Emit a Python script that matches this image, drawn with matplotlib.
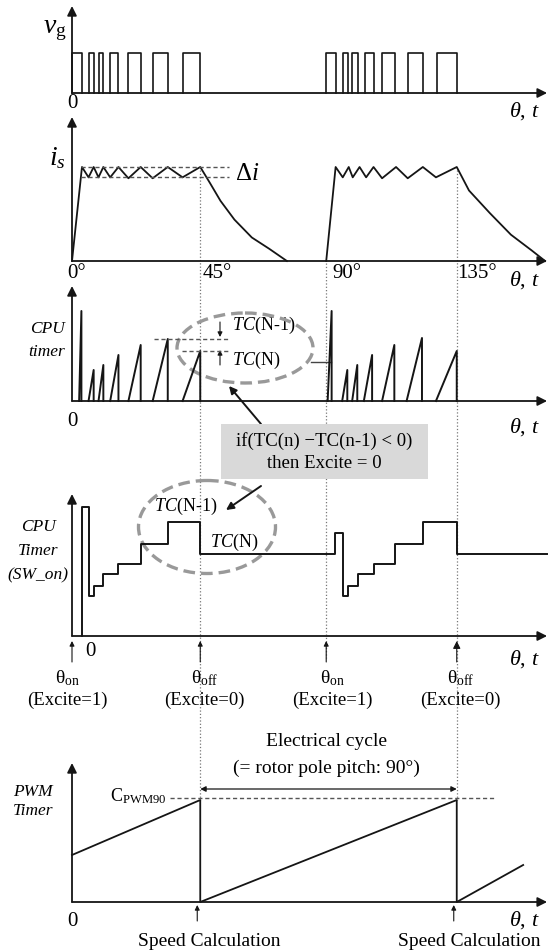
import numpy as np
import matplotlib
matplotlib.use('Agg')
import matplotlib.pyplot as plt
from matplotlib.patches import Ellipse, Rectangle
from matplotlib.transforms import blended_transform_factory

plt.rcParams['font.family'] = 'Liberation Serif'
plt.rcParams['mathtext.fontset'] = 'custom'
plt.rcParams['mathtext.rm'] = 'Liberation Serif'
plt.rcParams['mathtext.it'] = 'Liberation Serif:italic'

# gate voltage pulses, rotor angle in degrees
vg_rise = [0.0, 5.8, 9.3, 13.4, 19.8, 28.3, 38.8, 89.2, 95.0, 98.3, 102.9, 108.8, 117.8, 128.1]
vg_fall = [3.5, 7.6, 11.0, 16.3, 24.1, 33.6, 45.0, 92.5, 96.8, 100.3, 105.8, 113.5, 123.0, 135.0]

# phase current (1 = upper hysteresis band)
is_theta1 = [0, 3.5, 5.8, 7.6, 9.3, 11.0, 13.4, 16.3, 19.8, 24.1, 28.3, 33.6, 38.8, 45.0,
             48.4, 52.1, 57.0, 63.1, 69.2, 75.4]
is_val1 = [0, 1.0, 0.89, 1.0, 0.89, 1.0, 0.89, 1.0, 0.88, 1.0, 0.88, 1.0, 0.89, 1.0,
           0.83, 0.64, 0.44, 0.25, 0.13, 0.0]
is_theta2 = [89.2, 92.5, 95.0, 97.1, 98.5, 100.9, 103.2, 105.8, 108.8, 113.7, 117.8, 123.1, 127.7, 135.0,
             139.3, 146.6, 154.0, 161.4, 166.0]
is_val2 = [0, 1.0, 0.89, 1.0, 0.89, 1.0, 0.89, 1.0, 0.88, 1.0, 0.88, 1.0, 0.89, 1.0,
           0.75, 0.51, 0.28, 0.11, 0.0]
band_hi, band_lo = 1.0, 0.89

# CPU timer ramps
tc_start = [2.5, 5.8, 9.3, 13.4, 19.8, 28.3, 38.8, 89.7, 94.8, 98.3, 102.4, 108.8, 117.4, 127.7]
tc_end = [3.3, 7.6, 11.0, 16.3, 24.1, 33.6, 45.0, 91.1, 96.6, 100.1, 105.3, 113.1, 122.8, 135.0]
tc_peak = [90, 31, 36, 46, 56, 62, 50, 90, 31, 36, 46, 56, 63, 50]

# latched CPU timer (SW_on)
sw_edges = [3.5, 5.8, 7.6, 11.0, 16.3, 24.1, 33.6, 45.0, 92.3, 95.0, 96.8, 100.3, 105.8,
            113.5, 123.0, 135.0, 166.5]
sw_levels = [129, 40, 50, 62, 72, 92, 114, 82, 103, 40, 50, 62, 72, 92, 114, 82]

# PWM timer
pwm_theta = [0, 45.0, 45.0, 135.0, 135.0, 158.3]
pwm_val = [47, 102, 0, 102, 0, 37]
c_pwm90 = 104

theta_on = [0.0, 89.2]
theta_off = [45.0, 135.0]
angle_labels = ['0°', '45°', '90°', '135°']

W, H = 549, 952
X0, PXDEG = 72.0, 2.85
XEND = 166.7
LC = '#151515'
AX = dict(arrowstyle='-|>', color=LC, lw=1.3, mutation_scale=14, shrinkA=0, shrinkB=0)
SMALL = dict(arrowstyle='-|>', color=LC, lw=0.8, mutation_scale=7, shrinkA=0, shrinkB=0)
THT = r'$\theta$, $t$'


def px(deg):
    return X0 + deg * PXDEG


fig = plt.figure(figsize=(W / 100, H / 100), dpi=100)
ov = fig.add_axes([0, 0, 1, 1])
ov.set_xlim(0, W)
ov.set_ylim(H, 0)
ov.axis('off')


def panel(top, bottom, base, ppu, ytop):
    ax = fig.add_axes([0, 1 - bottom / H, 1, (bottom - top) / H])
    ax.set_xlim(-X0 / PXDEG, (W - X0) / PXDEG)
    ax.set_ylim((base - bottom) / ppu, (base - top) / ppu)
    ax.axis('off')
    ax.annotate('', xy=(0, (base - ytop) / ppu), xytext=(0, 0), arrowprops=AX)
    ax.annotate('', xy=(XEND, 0), xytext=(0, 0), arrowprops=AX)
    return ax


# ---- panel 1: v_g
ax1 = panel(0, 118, 93, 40.0, 6)
for r, f in zip(vg_rise, vg_fall):
    ax1.plot([r, r, f, f], [0, 1, 1, 0], color=LC, lw=1.2)
ov.text(67, 30, r'$v_\mathrm{g}$', ha='right', va='center', fontsize=20)
ov.text(72, 104, '0', ha='center', va='center', fontsize=15)
ov.text(540, 111, THT, ha='right', va='center', fontsize=16)

# ---- panel 2: i_s
ax2 = panel(112, 290, 261, 94.0, 117)
ax2.plot(is_theta1, is_val1, color=LC, lw=1.3)
ax2.plot(is_theta2, is_val2, color=LC, lw=1.3)
ax2.hlines([band_hi, band_lo], 3.2, 55.1, color='#555', lw=1.0, ls=(0, (3, 2)))
ov.text(66, 158, r'$i_s$', ha='right', va='center', fontsize=20)
ov.text(235, 174, r'$\Delta i$', ha='left', va='center', fontsize=18)
for a, lab, dx in zip([theta_on[0], theta_off[0], theta_on[1], theta_off[1]], angle_labels, [-5, 2, 6, 0]):
    ov.text(px(a) + dx, 273, lab, ha='left', va='center', fontsize=15)
ov.text(540, 280, THT, ha='right', va='center', fontsize=16)

# ---- panel 3: CPU timer
ax3 = panel(280, 430, 401, 1.0, 286)
for s, e, p in zip(tc_start, tc_end, tc_peak):
    ax3.plot([s, e, e], [0, p, 0], color=LC, lw=1.4)
ax3.hlines(tc_peak[5], 28.8, 55.1, color='#555', lw=1.0, ls=(0, (3, 2)))
ax3.hlines(tc_peak[6], 38.6, 55.1, color='#555', lw=1.0, ls=(0, (3, 2)))
ov.annotate('', xy=(220, 337), xytext=(220, 322), arrowprops=SMALL)
ov.annotate('', xy=(220, 350), xytext=(220, 365), arrowprops=SMALL)
ov.text(65, 329, 'CPU', ha='right', va='center', fontsize=12.5, style='italic')
ov.text(65, 352, 'timer', ha='right', va='center', fontsize=12.5, style='italic')
ov.text(232, 325, r'$TC$(N-1)', ha='left', va='center', fontsize=13)
ov.text(232, 360, r'$TC$(N)', ha='left', va='center', fontsize=13)
ov.add_patch(Ellipse((245, 348), 136, 70, fill=False, ec='#999', lw=2.4, ls=(0, (3.5, 1.8)), zorder=3))
ov.plot([311, 331], [362, 362], color='#444', lw=1.0)
ov.text(72, 421, '0', ha='center', va='center', fontsize=15)
ov.text(540, 427, THT, ha='right', va='center', fontsize=16)

# condition box
ov.add_patch(Rectangle((221, 424), 207, 55, fc='#d9d9d9', ec='none', zorder=4))
ov.text(324.5, 441, 'if(TC(n) \u2212TC(n-1) < 0)', ha='center', va='center', fontsize=13.5, zorder=5)
ov.text(324.5, 464, 'then Excite = 0', ha='center', va='center', fontsize=13.5, zorder=5)
ov.annotate('', xy=(229, 386), xytext=(261, 424),
            arrowprops=dict(arrowstyle='-|>', color=LC, lw=1.4, mutation_scale=11, shrinkA=0, shrinkB=0))
ov.annotate('', xy=(226, 510), xytext=(261, 486),
            arrowprops=dict(arrowstyle='-|>', color=LC, lw=1.4, mutation_scale=11, shrinkA=0, shrinkB=0),
            zorder=5)

# ---- panel 4: CPU timer (SW_on)
ax4 = panel(485, 668, 636, 1.0, 494)
ax4.step([sw_edges[0]] + sw_edges, [0] + sw_levels + [sw_levels[-1]], where='post', color=LC, lw=1.4)
ov.add_patch(Ellipse((207, 527), 137, 93, fill=False, ec='#999', lw=2.4, ls=(0, (3.5, 1.8)), zorder=3))
ov.text(186, 506, r'$TC$(N-1)', ha='center', va='center', fontsize=13)
ov.text(234, 542, r'$TC$(N)', ha='center', va='center', fontsize=13)
ov.text(38, 527, 'CPU', ha='center', va='center', fontsize=12.5, style='italic')
ov.text(38, 551, 'Timer', ha='center', va='center', fontsize=12.5, style='italic')
ov.text(38, 575, '(SW_on)', ha='center', va='center', fontsize=12.5, style='italic')
ov.text(90, 651, '0', ha='center', va='center', fontsize=15)
ov.text(540, 659, THT, ha='right', va='center', fontsize=16)
for a in theta_on + theta_off:
    big = a == theta_off[1]
    ov.annotate('', xy=(px(a), 641), xytext=(px(a), 662),
                arrowprops=dict(SMALL, mutation_scale=11 if big else 7))
for a, dx in zip(theta_on, [-5, 6]):
    ov.text(px(a) + dx, 678, r'$\mathrm{\theta}_\mathrm{on}$', ha='center', va='center', fontsize=14)
    ov.text(px(a) + dx, 700, '(Excite=1)', ha='center', va='center', fontsize=13.5)
for a in theta_off:
    ov.text(px(a) + 4, 678, r'$\mathrm{\theta}_\mathrm{off}$', ha='center', va='center', fontsize=14)
    ov.text(px(a) + 4, 700, '(Excite=0)', ha='center', va='center', fontsize=13.5)

# electrical cycle
ov.text(px(theta_on[1]), 741, 'Electrical cycle', ha='center', va='center', fontsize=14)
ov.text(px(theta_on[1]), 768, '(= rotor pole pitch: 90°)', ha='center', va='center', fontsize=14)
ov.annotate('', xy=(px(theta_off[0]), 789), xytext=(px(theta_off[1]), 789),
            arrowprops=dict(arrowstyle='<|-|>', color=LC, lw=0.9, mutation_scale=8, shrinkA=0, shrinkB=0))

# ---- panel 5: PWM timer
ax5 = panel(755, 932, 902, 1.0, 763)
ax5.plot(pwm_theta, pwm_val, color=LC, lw=1.3)
ax5.hlines(c_pwm90, 34.5, 148.0, color='#555', lw=1.0, ls=(0, (3, 2)))
ov.text(110, 796, r'C$_\mathrm{PWM90}$', ha='left', va='center', fontsize=13)
ov.text(33, 792, 'PWM', ha='center', va='center', fontsize=12.5, style='italic')
ov.text(33, 811, 'Timer', ha='center', va='center', fontsize=12.5, style='italic')
ov.text(72, 922, '0', ha='center', va='center', fontsize=15)
ov.text(540, 920, THT, ha='right', va='center', fontsize=16)
for a, dx in zip(theta_off, [9, 12]):
    ov.annotate('', xy=(px(a) - 3, 905), xytext=(px(a) - 3, 921), arrowprops=SMALL)
    ov.text(px(a) + dx, 941, 'Speed Calculation', ha='center', va='center', fontsize=14)

# ---- dotted guide lines at switching angles
bt = blended_transform_factory(ax2.transData, ov.transData)
for a in theta_off:
    ov.plot([a, a], [170, 800], transform=bt, color='#777', lw=0.9, ls=':', zorder=1)
ov.plot([theta_on[1], theta_on[1]], [263, 658], transform=bt, color='#777', lw=0.9, ls=':', zorder=1)

fig.savefig('out.png', dpi=100)
